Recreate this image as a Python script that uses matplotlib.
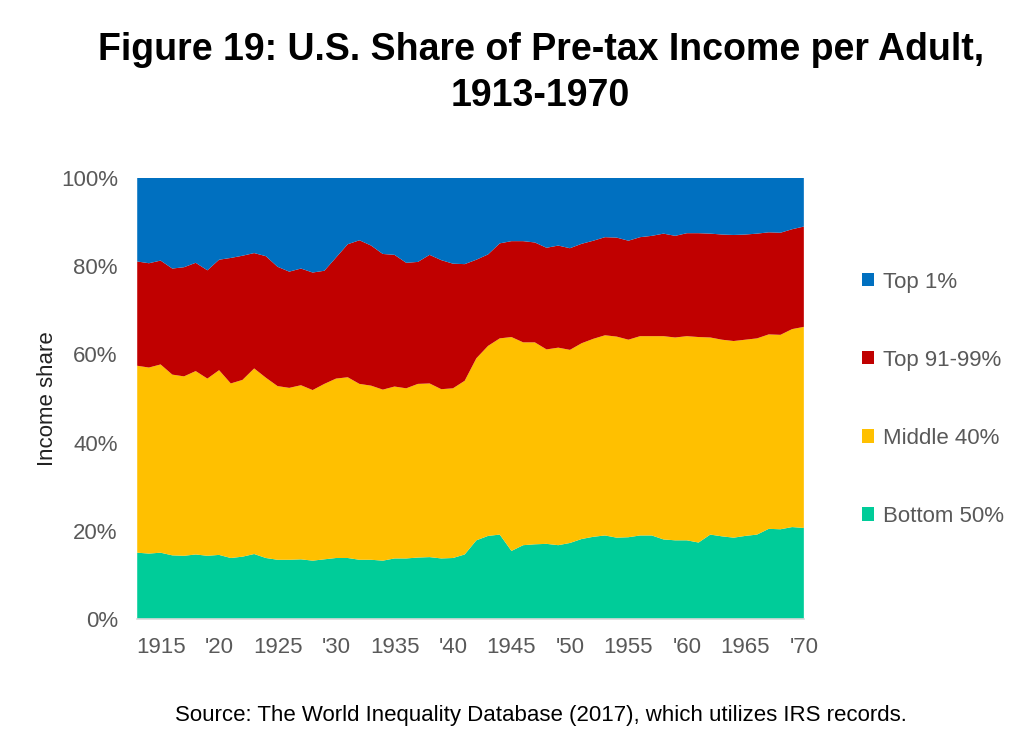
import matplotlib.pyplot as plt
from matplotlib.patches import Patch
from matplotlib.ticker import FuncFormatter

plt.rcParams['font.family'] = ['Liberation Sans', 'DejaVu Sans']

years = list(range(1913, 1971))

# shares of pre-tax income (%)
bottom_50 = [15.1, 14.9, 15.1, 14.5, 14.4, 14.7, 14.4, 14.6, 13.9, 14.2,
             14.8, 13.9, 13.5, 13.5, 13.6, 13.3, 13.6, 13.9, 13.9, 13.5,
             13.5, 13.3, 13.8, 13.8, 14.0, 14.1, 13.8, 13.9, 14.7, 17.9,
             18.9, 19.2, 15.5, 16.8, 17.0, 17.1, 16.8, 17.3, 18.2, 18.7,
             19.0, 18.5, 18.6, 19.0, 19.0, 18.1, 17.9, 17.9, 17.4, 19.2,
             18.8, 18.5, 18.9, 19.2, 20.5, 20.4, 20.9, 20.7]
middle_40 = [42.3, 42.1, 42.6, 40.9, 40.6, 41.5, 40.1, 41.8, 39.5, 40.0,
             42.0, 40.8, 39.3, 38.9, 39.4, 38.6, 39.7, 40.6, 40.9, 39.8,
             39.4, 38.7, 38.9, 38.5, 39.3, 39.3, 38.3, 38.4, 39.3, 41.2,
             43.0, 44.4, 48.4, 45.9, 45.7, 44.0, 44.7, 43.7, 44.3, 44.8,
             45.3, 45.5, 44.7, 45.1, 45.1, 46.0, 45.9, 46.2, 46.5, 44.6,
             44.5, 44.5, 44.4, 44.4, 44.0, 44.0, 44.8, 45.5]
top_91_99 = [23.6, 23.6, 23.5, 24.0, 24.7, 24.5, 24.5, 25.0, 28.4, 28.1,
             26.1, 27.5, 27.0, 26.3, 26.4, 26.6, 25.6, 27.4, 30.1, 32.5,
             31.7, 30.7, 29.8, 28.4, 27.6, 29.1, 29.2, 28.2, 26.4, 22.3,
             20.7, 21.5, 21.7, 22.9, 22.6, 23.0, 23.1, 23.0, 22.5, 22.2,
             22.2, 22.4, 22.4, 22.4, 22.7, 23.2, 23.0, 23.3, 23.5, 23.5,
             23.8, 24.0, 23.8, 23.7, 23.1, 23.1, 22.6, 22.7]
top_1 = [19.0, 19.4, 18.8, 20.6, 20.3, 19.3, 21.0, 18.6, 18.2, 17.7,
         17.1, 17.8, 20.2, 21.3, 20.6, 21.5, 21.1, 18.1, 15.1, 14.2,
         15.4, 17.3, 17.5, 19.3, 19.1, 17.5, 18.7, 19.5, 19.6, 18.6,
         17.4, 14.9, 14.4, 14.4, 14.7, 15.9, 15.4, 16.0, 15.0, 14.3,
         13.5, 13.6, 14.3, 13.5, 13.2, 12.7, 13.2, 12.6, 12.6, 12.7,
         12.9, 13.0, 12.9, 12.7, 12.4, 12.5, 11.7, 11.1]

labels = ["Bottom 50%", "Middle 40%", "Top 91-99%", "Top 1%"]
colors = ["#00CC99", "#FFC000", "#C00000", "#0070C0"]

tick_years = list(range(1915, 1971, 5))
tick_labels = [str(y) if y % 10 == 5 else "'" + str(y)[2:] for y in tick_years]

fig = plt.figure(figsize=(10.24, 7.49), dpi=100)
ax = fig.add_axes([0.134, 0.173, 0.651, 0.590])

ax.stackplot(years, bottom_50, middle_40, top_91_99, top_1,
             colors=colors, linewidth=0)

ax.set_xlim(1913, 1970)
ax.set_ylim(0, 100)
ax.set_yticks(range(0, 101, 20))
ax.yaxis.set_major_formatter(FuncFormatter(lambda v, p: f"{v:.0f}%"))
ax.set_xticks(tick_years)
ax.set_xticklabels(tick_labels)
ax.tick_params(axis='both', length=0, labelsize=16, colors="#595959")
ax.tick_params(axis='x', pad=13)
ax.tick_params(axis='y', pad=14)
ax.set_ylabel("Income share", fontsize=16, color="#222222", labelpad=2)

for side in ["top", "right", "left"]:
    ax.spines[side].set_visible(False)
ax.spines["bottom"].set_color("#D9D9D9")
ax.spines["bottom"].set_linewidth(1.2)

# legend, top group first
handles = [Patch(facecolor=c) for c in colors[::-1]]
fig.legend(handles, labels[::-1], loc="center left",
           bbox_to_anchor=(0.822, 0.467), frameon=False, fontsize=16,
           labelcolor="#595959", handlelength=0.55, handleheight=0.55,
           handletextpad=0.4, labelspacing=2.57)

fig.text(0.528, 0.933, "Figure 19: U.S. Share of Pre-tax Income per Adult,",
         ha="center", va="center", fontsize=27, fontweight="bold")
fig.text(0.528, 0.872, "1913-1970",
         ha="center", va="center", fontsize=27, fontweight="bold")
fig.text(0.528, 0.045,
         "Source: The World Inequality Database (2017), which utilizes IRS records.",
         ha="center", va="center", fontsize=16)

fig.savefig("out.png", dpi=100)
